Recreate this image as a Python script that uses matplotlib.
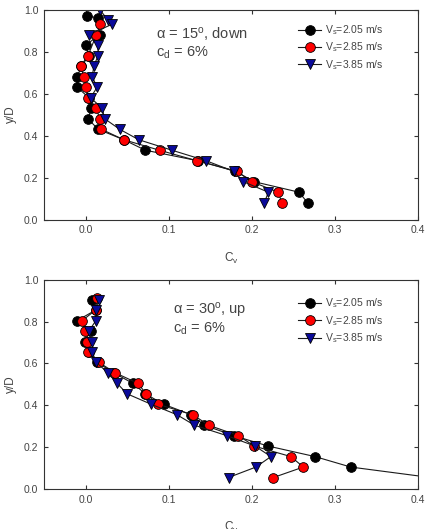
import matplotlib
matplotlib.use("Agg")
import matplotlib.pyplot as plt

# ---- Top panel: alpha = 15 deg, down ----
top_y_205 = [0.97, 0.96, 0.88, 0.83, 0.78, 0.73, 0.68, 0.63, 0.58, 0.53, 0.48, 0.43, 0.38, 0.33, 0.28, 0.23, 0.18, 0.13, 0.08]
top_cv_205 = [0.002, 0.015, 0.017, 0.000, 0.004, -0.005, -0.010, -0.010, 0.004, 0.007, 0.003, 0.015, 0.046, 0.072, 0.135, 0.180, 0.203, 0.257, 0.267]
top_y_285 = [0.93, 0.88, 0.78, 0.73, 0.68, 0.63, 0.58, 0.53, 0.48, 0.43, 0.38, 0.33, 0.28, 0.23, 0.18, 0.13, 0.08]
top_cv_285 = [0.018, 0.013, 0.003, -0.006, -0.002, 0.001, 0.003, 0.013, 0.017, 0.019, 0.046, 0.089, 0.134, 0.182, 0.200, 0.232, 0.236]
top_y_385 = [1.00, 0.95, 0.93, 0.88, 0.83, 0.78, 0.73, 0.68, 0.63, 0.58, 0.53, 0.48, 0.43, 0.38, 0.33, 0.28, 0.23, 0.18, 0.13, 0.08]
top_cv_385 = [0.017, 0.027, 0.032, 0.004, 0.015, 0.015, 0.010, 0.008, 0.014, 0.006, 0.020, 0.023, 0.041, 0.064, 0.104, 0.145, 0.178, 0.190, 0.220, 0.215]

# ---- Bottom panel: alpha = 30 deg, up ----
bot_y_205 = [0.905, 0.855, 0.805, 0.755, 0.705, 0.655, 0.605, 0.555, 0.505, 0.455, 0.405, 0.355, 0.305, 0.255, 0.205, 0.155, 0.105, 0.055]
bot_cv_205 = [0.008, 0.012, -0.010, 0.006, -0.001, 0.004, 0.014, 0.034, 0.057, 0.072, 0.094, 0.127, 0.143, 0.178, 0.220, 0.276, 0.319, 0.415]
bot_y_285 = [0.915, 0.855, 0.805, 0.755, 0.705, 0.655, 0.605, 0.555, 0.505, 0.455, 0.405, 0.355, 0.305, 0.255, 0.205, 0.155, 0.105, 0.055]
bot_cv_285 = [0.014, 0.012, -0.004, -0.001, 0.002, 0.003, 0.016, 0.036, 0.063, 0.073, 0.087, 0.129, 0.148, 0.184, 0.203, 0.247, 0.262, 0.226]
bot_y_385 = [0.905, 0.855, 0.805, 0.755, 0.705, 0.655, 0.605, 0.555, 0.505, 0.455, 0.405, 0.355, 0.305, 0.255, 0.205, 0.155, 0.105, 0.055]
bot_cv_385 = [0.016, 0.012, 0.0125, 0.004, 0.008, 0.008, 0.013, 0.027, 0.038, 0.050, 0.079, 0.110, 0.131, 0.170, 0.204, 0.223, 0.205, 0.172]

labels = ["V$_\\mathregular{s}$=2.05 m/s", "V$_\\mathregular{s}$=2.85 m/s", "V$_\\mathregular{s}$=3.85 m/s"]
x_ticks = [0.0, 0.1, 0.2, 0.3, 0.4]
y_ticks = [0.0, 0.2, 0.4, 0.6, 0.8, 1.0]

plt.rcParams['font.family'] = ['Liberation Sans', 'DejaVu Sans']
plt.rcParams['mathtext.fontset'] = 'custom'
plt.rcParams['mathtext.rm'] = 'Liberation Sans'
plt.rcParams['mathtext.it'] = 'Liberation Sans'

fig = plt.figure(figsize=(4.31, 5.29), dpi=100)
ax1 = fig.add_axes([0.102, 0.585, 0.868, 0.397])
ax2 = fig.add_axes([0.102, 0.0756, 0.868, 0.3955])

styles = [dict(marker='o', mfc='black', ms=7),
          dict(marker='o', mfc='#ff0000', ms=7),
          dict(marker='v', mfc='#0a0a9a', ms=7)]

def draw(ax, series, text, tx, ty, leg_top):
    for (cv, y), st, lab in zip(series, styles, labels):
        ax.plot(cv, y, color='#1a1a1a', lw=0.8, mec='black', mew=0.6,
                label=lab, clip_on=True, **st)
    ax.set_xlim(-0.05, 0.4)
    ax.set_ylim(0.0, 1.0)
    ax.set_xticks(x_ticks)
    ax.set_yticks(y_ticks)
    ax.set_xticklabels([f"{v:.1f}" for v in x_ticks])
    ax.set_yticklabels([f"{v:.1f}" for v in y_ticks])
    ax.tick_params(direction='in', top=True, right=True, length=3,
                   labelsize=7.5, colors='#333333', labelcolor='#444444', pad=4)
    for s in ax.spines.values():
        s.set_color('#333333')
        s.set_linewidth(0.8)
    ax.set_xlabel("C$_\\mathregular{v}$", fontsize=8.5, color='#444444')
    ax.set_ylabel("y/D", fontsize=8.5, color='#444444')
    ax.xaxis.set_label_coords(0.5, -0.15)
    ax.yaxis.set_label_coords(-0.072, 0.5)
    ax.text(tx, ty, text, transform=ax.transAxes, fontsize=10.5,
            color='#444444', va='top', ha='left', linespacing=1.1)
    leg = ax.legend(loc='upper left', bbox_to_anchor=(0.68, leg_top), frameon=False,
                    fontsize=7.5, handlelength=2.2, labelspacing=0.35,
                    handletextpad=0.4, borderaxespad=0.0, borderpad=0.0)
    for t in leg.get_texts():
        t.set_color('#444444')

draw(ax1, [(top_cv_205, top_y_205), (top_cv_285, top_y_285), (top_cv_385, top_y_385)],
     "$\\alpha$ = 15$^\\mathregular{o}$, down\nc$_\\mathregular{d}$ = 6%", 0.3, 0.925, 0.935)
draw(ax2, [(bot_cv_205, bot_y_205), (bot_cv_285, bot_y_285), (bot_cv_385, bot_y_385)],
     "$\\alpha$ = 30$^\\mathregular{o}$, up\nc$_\\mathregular{d}$ = 6%", 0.345, 0.9, 0.92)

fig.savefig("out.png", dpi=100)
